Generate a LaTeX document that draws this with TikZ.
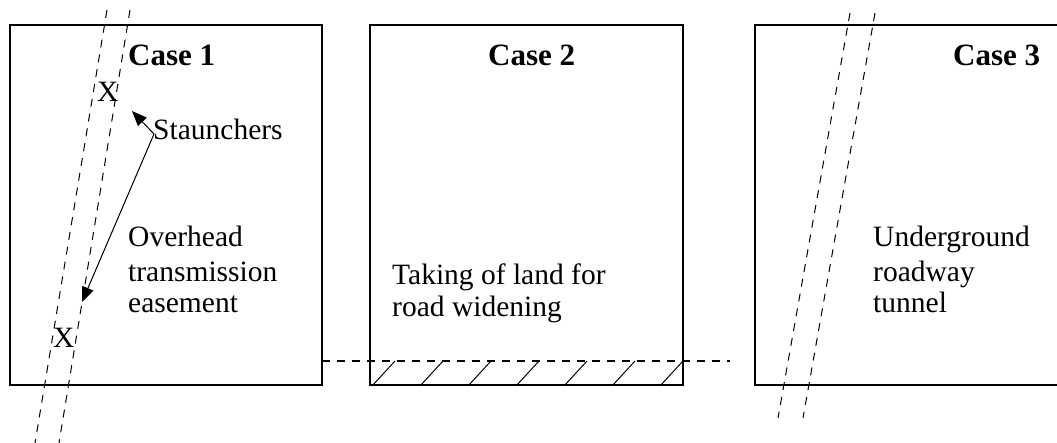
\documentclass[tikz,border=0pt]{standalone}
\usepackage{fontspec}
\setmainfont{Liberation Serif}
\usetikzlibrary{arrows.meta, positioning}

\begin{document}
\begin{tikzpicture}[x=1pt, y=-1pt,
		casebox/.style = {draw, line width = 1.2pt, minimum width = 313pt, minimum height = 360pt, outer sep = 0pt, inner sep = 0pt},
		lbl/.style = {font = \fontsize{29.5}{34}\selectfont, inner sep = 0pt, anchor = base west},
		title/.style = {font = \fontsize{31}{36}\selectfont\bfseries, inner sep = 0pt, anchor = base west},
		route/.style = {dashed, dash pattern = on 8pt off 7pt, line width = 1pt},
		pointer/.style = {-{Triangle[length=15pt, width=12pt]}, line width = 1pt}]
		\useasboundingbox (0,0) rectangle (1057,443);
		% the three cases
		\node[casebox, anchor = north west, minimum width = 312pt] (case1) at (10,25) {};
		\node[casebox, right = 48pt of case1] (case2) {};
		\node[casebox, right = 72pt of case2] (case3) {};
		\node[title] (title1) at (128,66) {Case 1};
		\node[title] (title2) at (488,66) {Case 2};
		\node[title] (title3) at (953,66) {Case 3};
		% case 1: easement
		\coordinate (ea1) at (107,10); \coordinate (eb1) at (35,443);
		\coordinate (ea2) at (130,10); \coordinate (eb2) at (59,443);
		\draw[route] (ea1) -- (eb1);
		\draw[route] (ea2) -- (eb2);
		\node[lbl] (xtop) at (97,102) {X};
		\node[lbl] (xbot) at (53,348) {X};
		\node[lbl] (staunch) at (153,140) {Staunchers};
		\node[lbl] (over1) at (128,247) {Overhead};
		\node[lbl] (over2) at (128,282) {transmission};
		\node[lbl] (over3) at (128,313) {easement};
		\coordinate (sorigin) at (154,134);
		\coordinate (tipA) at (132,111);
		\coordinate (tipB) at (82,302);
		\draw[pointer] (sorigin) -- (tipA);
		\draw[pointer] (sorigin) -- (tipB);
		% case 2: road widening
		\coordinate (roadl) at (case1.east |- 0,361);
		\coordinate (roadr) at (730,361);
		\draw[route] (roadl) -- (roadr);
		\foreach \k in {0,...,6}
			\draw[line width = 1pt] (372+48*\k,386) -- ++(23,-25);
		\node[lbl] (take1) at (392,285) {Taking of land for};
		\node[lbl] (take2) at (392,317) {road widening};
		% case 3: tunnel
		\coordinate (ta1) at (850,13); \coordinate (tb1) at (778,418);
		\coordinate (ta2) at (875,13); \coordinate (tb2) at (803,418);
		\draw[route] (ta1) -- (tb1);
		\draw[route] (ta2) -- (tb2);
		\node[lbl] (tun1) at (873,247) {Underground};
		\node[lbl] (tun2) at (873,282) {roadway};
		\node[lbl] (tun3) at (873,313) {tunnel};
	\end{tikzpicture}
\end{document}
